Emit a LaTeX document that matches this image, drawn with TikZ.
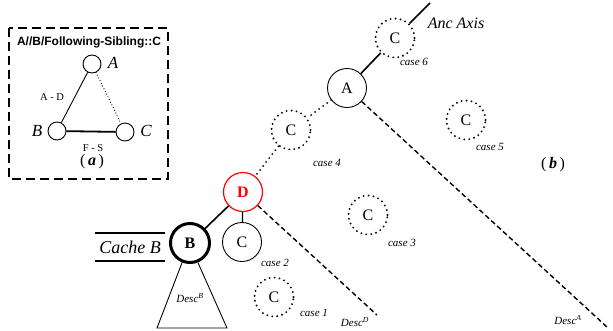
\documentclass[tikz,border=0pt]{standalone}
\usepackage{fontspec}
\setmainfont{Liberation Serif}
\newfontfamily\headfont{Liberation Sans}
\usepackage{tikz}
\usetikzlibrary{positioning}

\begin{document}
\begin{tikzpicture}[
    x=1pt, y=-1pt,
    qnode/.style={draw, circle, minimum size=18pt, inner sep=0pt, line width=0.9pt},
    plain/.style={draw, circle, minimum size=39pt, inner sep=0pt, line width=0.9pt, font=\fontsize{16}{16}\selectfont},
    ghost/.style={plain, line width=2.1pt, dash pattern=on 0pt off 5pt, line cap=round},
    tag/.style={font=\fontsize{11}{11}\selectfont\itshape},
    edge/.style={line width=1.6pt},
    dots/.style={line width=2pt, dash pattern=on 0pt off 5pt, line cap=round},
    dashes/.style={line width=1.4pt, dash pattern=on 5pt off 3pt}
]
\useasboundingbox (0,0) rectangle (613,330);

% Query pattern (a)
\draw[line width=1.3pt, dash pattern=on 9pt off 5pt] (9,28) rectangle (168,179);
\node (title) at (89,42) [font=\headfont\bfseries\fontsize{12}{13}\selectfont] {A//B/Following-Sibling::C};
\node (qa) at (92,64) [qnode] {};
\node (qb) at (57,131) [qnode] {};
\node (qc) at (125,132) [qnode] {};
\node (qalabel) at (113,63) [font=\fontsize{17}{17}\selectfont\itshape] {A};
\node (qblabel) at (37,131) [font=\fontsize{17}{17}\selectfont\itshape] {B};
\node (qclabel) at (146,131) [font=\fontsize{17}{17}\selectfont\itshape] {C};
\node (ad) at (52,97) [font=\fontsize{10.5}{11}\selectfont] {A - D};
\node (fs) at (93,148) [font=\fontsize{10.5}{11}\selectfont] {F - S};
\node (alabel) at (92,162) [font=\fontsize{16}{16}\selectfont] {(\,\textbf{\textit{a}}\,)};

\draw[line width=0.9pt] (qa) -- (qb);
\draw[line width=1.2pt, dash pattern=on 0pt off 3pt, line cap=round] (qa) -- (qc);
\draw[line width=1.8pt] (qb) -- (qc);

% Document tree (b)
\node (c6) at (395,38) [ghost] {C};
\node (na) at (347,88) [plain] {A};
\node (c5) at (466,120) [ghost] {C};
\node (c4) at (291,130) [ghost] {C};
\node (d) at (243,192) [plain, draw=red, text=red, line width=1.2pt, font=\fontsize{16}{16}\selectfont\bfseries] {D};
\node (c3) at (368,215) [ghost] {C};
\node (b) at (190,243) [plain, line width=3pt, font=\fontsize{16}{16}\selectfont\bfseries] {B};
\node (c2) at (242,242) [plain] {C};
\node (c1) at (274,297) [ghost] {C};

\node (case6) at (414,62) [tag] {case 6};
\node (case5) at (490,147) [tag] {case 5};
\node (case4) at (327,163) [tag] {case 4};
\node (case3) at (402,243) [tag] {case 3};
\node (case2) at (275,263) [tag] {case 2};
\node (case1) at (314,313) [tag] {case 1};

\node (anc) at (456,23) [font=\fontsize{16}{16}\selectfont\itshape] {Anc Axis};
\node (blabel) at (553,165) [font=\fontsize{16}{16}\selectfont] {(\,\textbf{\textit{b}}\,)};
\node (descb) at (190,298) [tag] {Desc\textsuperscript{B}};
\node (descd) at (355,322) [tag] {Desc\textsuperscript{D}};
\node (desca) at (568,320) [tag] {Desc\textsuperscript{A}};

\node (cache) at (130,247) [minimum width=69pt, minimum height=28pt, inner sep=0pt, font=\fontsize{18}{18}\selectfont\itshape] {Cache B};
\draw[line width=1.6pt] (cache.north west) -- (cache.north east);
\draw[line width=1.6pt] (cache.south west) -- (cache.south east);

\coordinate (anctop) at (430,3);
\coordinate (aend) at (607,327);
\coordinate (dend) at (377,315);
\coordinate (tl) at (157,328);
\coordinate (tr) at (227,328);

% Arrows
\draw[edge] (c6) -- (anctop);
\draw[edge] (c6) -- (na);
\draw[dots] (na) -- (c4);
\draw[dots] (c4) -- (d);
\draw[edge] (d) -- (b);
\draw[edge, line width=1.3pt] (d) -- (c2);
\draw[dashes] (na) -- (aend);
\draw[dashes] (d) -- (dend);
\draw[line width=0.9pt] (b.-112) -- (tl) -- (tr) -- (b.-68);

\end{tikzpicture}
\end{document}
